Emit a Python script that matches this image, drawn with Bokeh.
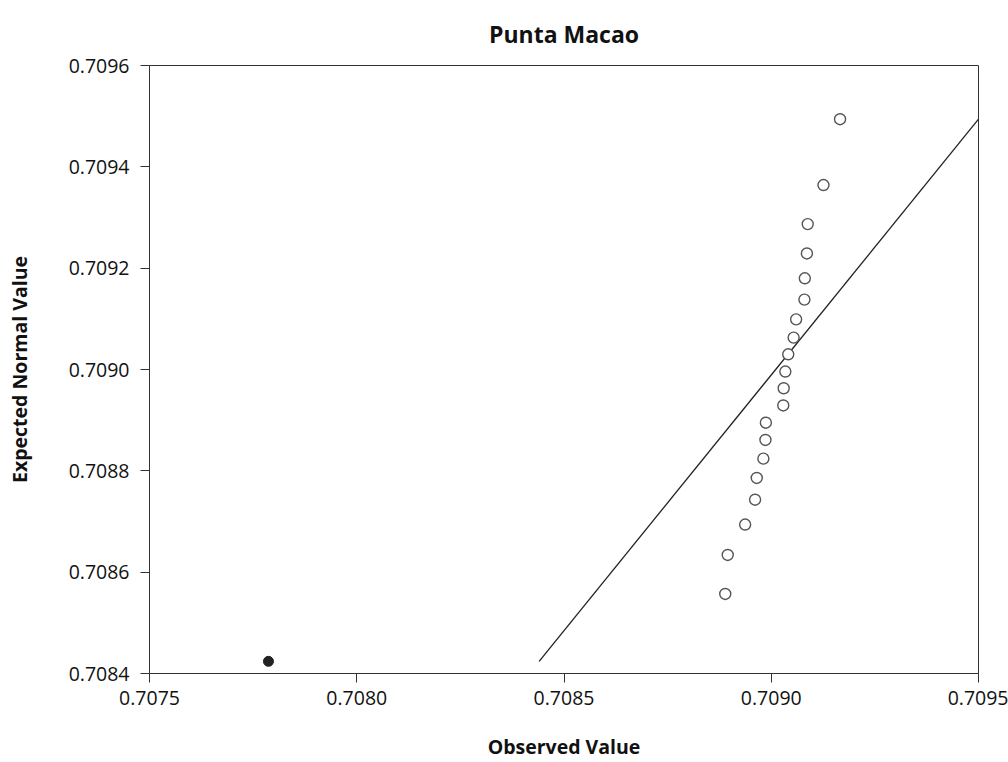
from bokeh.plotting import figure
from bokeh.embed import file_html
from bokeh.resources import INLINE
from bokeh.models import Range1d, FixedTicker, NumeralTickFormatter, ColumnDataSource

# Observed vs expected normal values (open circles)
observed = [0.709166, 0.709126, 0.709088, 0.709086, 0.709081, 0.709080, 0.709060,
            0.709054, 0.709041, 0.709034, 0.709030, 0.709029, 0.708987, 0.708986,
            0.708981, 0.708965, 0.708961, 0.708937, 0.708895, 0.708889]
expected = [0.709494, 0.709364, 0.709287, 0.709229, 0.709180, 0.709138, 0.709099,
            0.709063, 0.709030, 0.708996, 0.708963, 0.708929, 0.708895, 0.708861,
            0.708824, 0.708786, 0.708743, 0.708694, 0.708634, 0.708557]

# Outlier (filled)
outlier_observed = [0.707787]
outlier_expected = [0.708424]

# Reference line endpoints
line_x = [0.708440, 0.709500]
line_y = [0.708424, 0.709494]

x_ticks = [0.7075, 0.7080, 0.7085, 0.7090, 0.7095]
y_ticks = [0.7084, 0.7086, 0.7088, 0.7090, 0.7092, 0.7094, 0.7096]

FONT = "Open Sans"

W, H = 1008, 762
p = figure(width=W, height=H, output_backend="svg", toolbar_location=None,
           x_range=Range1d(0.7075, 0.7095), y_range=Range1d(0.7084, 0.7096),
           min_border_left=149, min_border_right=W - 978, min_border_top=65,
           min_border_bottom=H - 675, title="Punta Macao")

p.title.align = "center"
p.title.vertical_align = "top"
p.title.text_font = FONT
p.title.text_font_size = "23px"
p.title.text_font_style = "bold"
p.title.text_color = "#111111"
p.title.standoff = 28

p.grid.visible = False
p.outline_line_color = "#333333"
p.outline_line_width = 1
p.background_fill_color = "white"
p.border_fill_color = "white"

p.xaxis.ticker = FixedTicker(ticks=x_ticks)
p.yaxis.ticker = FixedTicker(ticks=y_ticks)
p.xaxis.formatter = NumeralTickFormatter(format="0.0000")
p.yaxis.formatter = NumeralTickFormatter(format="0.0000")

for ax in (p.xaxis, p.yaxis):
    ax.axis_line_color = "#333333"
    ax.major_tick_line_color = "#333333"
    ax.major_tick_out = 9
    ax.major_tick_in = 0
    ax.minor_tick_line_color = None
    ax.major_label_text_font = FONT
    ax.major_label_text_font_size = "19.5px"
    ax.major_label_text_color = "#111111"
    ax.axis_label_text_font = FONT
    ax.axis_label_text_font_size = "19.5px"
    ax.axis_label_text_font_style = "bold"
    ax.axis_label_text_color = "#111111"

p.xaxis.axis_label = "Observed Value"
p.yaxis.axis_label = "Expected Normal Value"
p.xaxis.major_label_standoff = 8
p.xaxis.axis_label_standoff = 25
p.yaxis.major_label_standoff = 11
p.yaxis.axis_label_standoff = 33

p.line(line_x, line_y, line_color="#222222", line_width=1.3)

src = ColumnDataSource(dict(x=observed, y=expected))
p.scatter("x", "y", source=src, size=11, fill_color="white",
          line_color="#555555", line_width=1.4)

p.scatter(outlier_observed, outlier_expected, size=10, fill_color="#222222",
          line_color="#222222")

open("out.html", "w").write(file_html(p, INLINE))
